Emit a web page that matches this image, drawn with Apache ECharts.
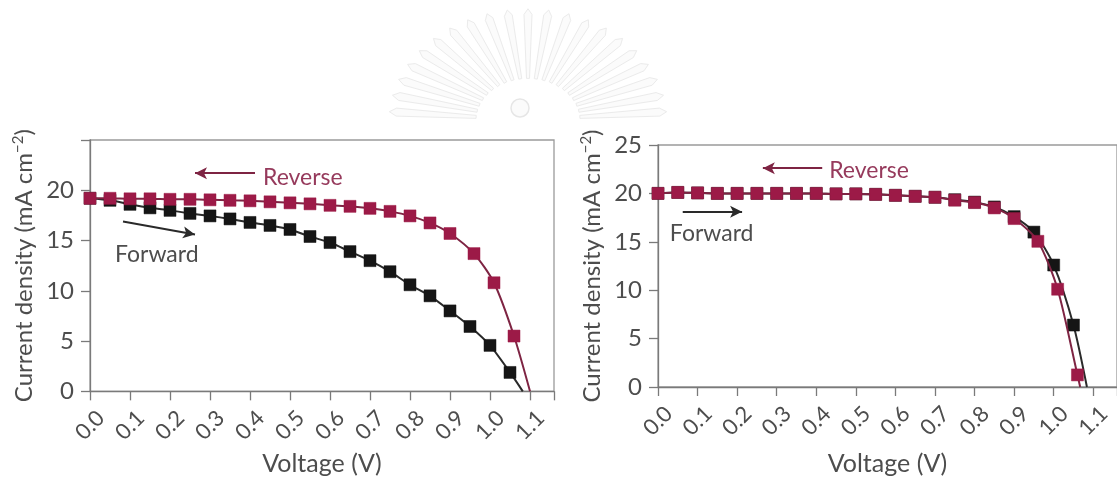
<!DOCTYPE html>
<html>
<head>
<meta charset="utf-8">
<script src="https://cdn.jsdelivr.net/npm/echarts@6/dist/echarts.min.js"></script>
<style>
html,body{margin:0;padding:0;background:#fff;}
#chart{width:1117px;height:481px;}
</style>
</head>
<body>
<div id="chart"></div>
<script>
// ---------- data ----------
const xTickValues = [0, 0.1, 0.2, 0.3, 0.4, 0.5, 0.6, 0.7, 0.8, 0.9, 1.0, 1.1];
const yTicksLeft = [0, 5, 10, 15, 20];
const yTicksRight = [0, 5, 10, 15, 20, 25];

// Left panel
const voltageFwdA = [0, 0.05, 0.1, 0.15, 0.2, 0.25, 0.3, 0.35, 0.4, 0.45, 0.5, 0.55, 0.6, 0.65, 0.7, 0.75, 0.8, 0.85, 0.9, 0.95, 1.0, 1.05];
const currentFwdA = [19.2, 19.0, 18.6, 18.25, 18.0, 17.7, 17.45, 17.15, 16.8, 16.5, 16.1, 15.4, 14.8, 13.9, 13.0, 11.9, 10.6, 9.5, 8.0, 6.45, 4.57, 1.88];
const vocFwdA = 1.082;
const voltageRevA = [0, 0.05, 0.1, 0.15, 0.2, 0.25, 0.3, 0.35, 0.4, 0.45, 0.5, 0.55, 0.6, 0.65, 0.7, 0.75, 0.8, 0.85, 0.9, 0.96, 1.01, 1.06];
const currentRevA = [19.2, 19.2, 19.15, 19.15, 19.1, 19.1, 19.05, 19.0, 18.95, 18.85, 18.75, 18.65, 18.5, 18.4, 18.2, 17.9, 17.45, 16.75, 15.7, 13.7, 10.8, 5.5];
const vocRevA = 1.10;

// Right panel
const voltageFwdB = [0, 0.05, 0.1, 0.15, 0.2, 0.25, 0.3, 0.35, 0.4, 0.45, 0.5, 0.55, 0.6, 0.65, 0.7, 0.75, 0.8, 0.85, 0.9, 0.95, 1.0, 1.05];
const currentFwdB = [20.0, 20.1, 20.05, 20.0, 20.0, 20.0, 20.0, 20.0, 20.0, 19.95, 19.95, 19.9, 19.8, 19.7, 19.6, 19.35, 19.1, 18.6, 17.6, 16.0, 12.6, 6.4];
const vocFwdB = 1.084;
const voltageRevB = [0, 0.05, 0.1, 0.15, 0.2, 0.25, 0.3, 0.35, 0.4, 0.45, 0.5, 0.55, 0.6, 0.65, 0.7, 0.75, 0.8, 0.85, 0.9, 0.96, 1.01, 1.06];
const currentRevB = [20.0, 20.1, 20.05, 20.0, 20.0, 20.0, 20.0, 20.0, 20.0, 19.95, 19.95, 19.9, 19.8, 19.7, 19.6, 19.3, 19.05, 18.5, 17.4, 15.05, 10.1, 1.25];
const vocRevB = 1.067;

// annotations (data coordinates)
const arrowsLeft = {rev: [[0.4125, 21.7], [0.2625, 21.7]], fwd: [[0.0825, 16.9], [0.2625, 15.6]]};
const labelsLeft = {rev: [0.4325, 21.3], fwd: [0.0625, 13.6]};
const arrowsRight = {rev: [[0.415, 22.6], [0.265, 22.6]], fwd: [[0.0625, 18.1], [0.2125, 18.1]]};
const labelsRight = {rev: [0.4325, 22.4], fwd: [0.03, 15.9]};

// ---------- styles ----------
const RED = '#9c1a47';
const RED_LINE = '#7e2443';
const BLACK = '#151515';
const BLACK_LINE = '#2a2a2a';
const TEXT = '#4d4d4d';
const AXIS = '#7a7a7a';
const FONT = 'Lato, "Open Sans", sans-serif';

function curve(xs, ys, voc) {
  const d = xs.map((x, i) => [x, ys[i]]);
  d.push({value: [voc, 0], symbol: 'none'});
  return d;
}

function xAxisCfg(gridIndex, nameGap) {
  return {
    type: 'value', gridIndex, min: 0, max: 1.16, interval: 0.1,
    name: 'Voltage (V)', nameLocation: 'middle', nameGap,
    nameTextStyle: {color: TEXT, fontSize: 25, fontFamily: FONT, verticalAlign: 'top'},
    axisLine: {show: true, lineStyle: {color: AXIS, width: 1.3}},
    axisTick: {show: true, length: 9, lineStyle: {color: AXIS, width: 1.3}},
    axisLabel: {show: true, rotate: 45, margin: 34, align: 'center', verticalAlign: 'middle',
      customValues: xTickValues, color: TEXT, fontSize: 22, fontFamily: FONT,
      formatter: v => v.toFixed(1)},
    splitLine: {show: false}
  };
}
function yAxisCfg(gridIndex, ticks, nameGap) {
  return {
    type: 'value', gridIndex, min: 0, max: 25, interval: 5,
    name: 'Current density (mA cm{sup|\u22122})', nameLocation: 'middle', nameGap,
    nameTextStyle: {color: TEXT, fontSize: 24, fontFamily: FONT,
      rich: {sup: {fontSize: 15, color: TEXT, fontFamily: FONT, verticalAlign: 'top', padding: [0, 0, 12, 0]}}},
    axisLine: {show: true, lineStyle: {color: AXIS, width: 1.3}},
    axisTick: {show: true, length: 9, lineStyle: {color: AXIS, width: 1.3}},
    axisLabel: {show: true, margin: 16, customValues: ticks, color: TEXT, fontSize: 24, fontFamily: FONT},
    splitLine: {show: false}
  };
}
function lineSeries(name, xi, data, color, lineColor, arrow) {
  const s = {
    name, type: 'line', xAxisIndex: xi, yAxisIndex: xi, data,
    smooth: 0.25, symbol: 'rect', symbolSize: 12,
    itemStyle: {color, borderColor: color, borderWidth: 0.5},
    lineStyle: {color: lineColor, width: 2},
    animation: false, z: name.indexOf('rev') >= 0 ? 3 : 2
  };
  if (arrow) {
    s.markLine = {
      silent: true, animation: false, symbol: ['none', 'arrow'], symbolSize: [9, 12],
      label: {show: false}, lineStyle: {color: lineColor, width: 2, type: 'solid'},
      data: [[{coord: arrow[0]}, {coord: arrow[1]}]]
    };
  }
  return s;
}

const chart = echarts.init(document.getElementById('chart'), null, {renderer: 'canvas'});
const option = {
  backgroundColor: '#fff',
  grid: [
    {left: 90, top: 140, width: 464, height: 257, show: true, borderColor: '#9a9a9a', borderWidth: 1.3, backgroundColor: 'transparent'},
    {left: 658, top: 145, width: 464, height: 243, show: true, borderColor: '#9a9a9a', borderWidth: 1.3, backgroundColor: 'transparent'}
  ],
  xAxis: [xAxisCfg(0, 55), xAxisCfg(1, 64)],
  yAxis: [yAxisCfg(0, yTicksLeft, 52), yAxisCfg(1, yTicksRight, 52)],
  series: [
    lineSeries('fwdA', 0, curve(voltageFwdA, currentFwdA, vocFwdA), BLACK, BLACK_LINE, arrowsLeft.fwd),
    lineSeries('revA', 0, curve(voltageRevA, currentRevA, vocRevA), RED, RED_LINE, arrowsLeft.rev),
    lineSeries('fwdB', 1, curve(voltageFwdB, currentFwdB, vocFwdB), BLACK, BLACK_LINE, arrowsRight.fwd),
    lineSeries('revB', 1, curve(voltageRevB, currentRevB, vocRevB), RED, RED_LINE, arrowsRight.rev)
  ]
};
chart.setOption(option);

function textAt(idx, pt, text, color) {
  const p = chart.convertToPixel({xAxisIndex: idx, yAxisIndex: idx}, pt);
  return {type: 'text', x: p[0], y: p[1], z: 10,
    style: {text, fill: color, fontSize: 23, fontFamily: FONT, textAlign: 'left', textVerticalAlign: 'middle'}};
}

// faint decorative watermark (sunburst emblem) behind the charts
function watermark() {
  const els = [];
  const cx = 528, cy = 120, r0 = 52, r1 = 132, ky = 0.8, n = 21;
  for (let i = 0; i < n; i++) {
    const a = Math.PI * (i + 0.5) / n;
    const ux = -Math.cos(a), uy = -Math.sin(a) * ky;
    const len = Math.hypot(ux, uy);
    const nx = -uy / len, ny = ux / len;
    const w0 = 1.5, w1 = 4;
    const P = (r, w) => [cx + ux * r + nx * w, cy + uy * r + ny * w];
    els.push({type: 'polygon', z: -10, silent: true,
      shape: {points: [P(r0, -w0), P(r1, -w1), P(r1 + 7, 0), P(r1, w1), P(r0, w0)]},
      style: {fill: '#fbfbfb', stroke: '#ebebeb', lineWidth: 1}});
  }
  els.push({type: 'circle', z: -10, silent: true, shape: {cx: cx - 8, cy: cy - 12, r: 9},
    style: {fill: '#fbfbfb', stroke: '#e6e6e6', lineWidth: 1.5}});
  return els;
}

chart.setOption({
  graphic: watermark().concat([
    textAt(0, labelsLeft.rev, 'Reverse', '#963a5c'),
    textAt(0, labelsLeft.fwd, 'Forward', TEXT),
    textAt(1, labelsRight.rev, 'Reverse', '#963a5c'),
    textAt(1, labelsRight.fwd, 'Forward', TEXT)
  ])
});
</script>
</body>
</html>
